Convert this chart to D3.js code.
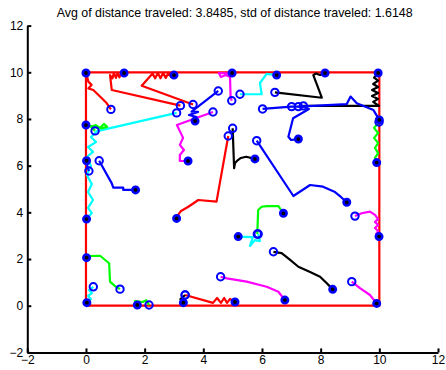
<!DOCTYPE html>
<html>
<head>
<meta charset="utf-8">
<script src="https://cdn.jsdelivr.net/npm/d3@7"></script>
<style>
  body { margin: 0; background: #fff; }
  svg { display: block; font-family: "Liberation Sans", Arial, sans-serif; }
</style>
</head>
<body>
<svg width="446" height="370"></svg>
<script>
// title + ticks
const titleText = "Avg of distance traveled: 3.8485, std of distance traveled: 1.6148";
const xTicks = [-2, 0, 2, 4, 6, 8, 10, 12];
const yTicks = [-2, 0, 2, 4, 6, 8, 10, 12];
const arena = [[0, 0], [10, 0], [10, 10], [0, 10], [0, 0]];

// trajectories: first point = start (open circle), last point = end (filled dot)
const redTopLeft = [[0.85, 8.41], [0.71, 8.67], [0.54, 8.89], [0.25, 9.24], [0.08, 9.31], [0.19, 9.46], [0.08, 9.6], [0.04, 9.81], [0, 9.97]];
const redTop1 = [[3.22, 8.57], [0.88, 9.24], [0.82, 9.88], [0.9, 9.74], [0.95, 9.97], [1.02, 9.76], [1.08, 9.97], [1.14, 9.78], [1.2, 9.95], [1.3, 9.97]];
const redTop2 = [[3.65, 8.62], [1.9, 9.42], [2.27, 9.95], [2.36, 9.74], [2.45, 9.97], [2.54, 9.74], [2.63, 9.97], [2.72, 9.76], [2.81, 9.97], [2.9, 9.8], [3.0, 9.88]];
const blueZ = [[4.51, 9.2], [3.6, 8.31], [3.82, 8.3], [3.51, 8.17], [3.78, 8.08], [3.72, 7.91]];
const magentaMid = [[4.33, 8.3], [3.1, 7.74], [3.31, 7.19], [3.2, 6.89], [3.34, 6.67], [3.2, 6.46], [3.2, 6.2], [3.48, 6.2]];
const cyanLeft = [[3.09, 8.26], [0.38, 7.48], [0.17, 7.23], [0.34, 7.01], [0.07, 6.8], [0.24, 6.59], [0.03, 6.37], [0.17, 5.99], [0.03, 5.6], [0.2, 5.21], [0.07, 4.87], [0.24, 4.53], [0.07, 4.19], [0.2, 3.97], [0.02, 3.71]];
const greenTopLeft = [[0.31, 7.49], [0.17, 7.66], [0.34, 7.74], [0.48, 7.61], [0.61, 7.79], [0.72, 7.66], [0.55, 7.61], [0.27, 7.66], [0, 7.74]];
const blueWall = [[0.1, 5.77], [0.05, 5.95], [0.02, 6.21]];
const blueLeft = [[0.45, 6.21], [0.88, 5.24], [0.93, 5.06], [1.27, 5.06], [1.27, 4.96], [1.69, 4.96]];
const redMid = [[4.85, 7.27], [4.45, 4.46], [3.83, 4.53], [3.49, 4.24], [3.24, 4.06], [3.14, 3.89], [3.09, 3.74]];
const blackMid = [[5.0, 7.6], [5.05, 5.89], [5.08, 6.11], [5.18, 6.24], [5.28, 6.33], [5.46, 6.38], [5.76, 6.29]];
const blueMid = [[5.82, 7.07], [7.07, 4.7], [7.64, 5.17], [8.08, 5.1], [8.49, 4.87], [8.69, 4.66], [8.89, 4.43]];
const greenMid = [[5.84, 3.07], [5.87, 4.1], [5.99, 4.24], [6.16, 4.27], [6.56, 4.27], [6.73, 3.96]];
const cyanMid = [[5.87, 3.07], [5.93, 2.77], [5.76, 2.81], [5.59, 2.56], [5.69, 2.94], [5.19, 2.96]];
const blackLow = [[6.39, 2.31], [6.67, 2.25], [6.96, 1.96], [7.24, 1.67], [7.64, 1.44], [7.98, 1.24], [8.21, 0.96], [8.41, 0.7]];
const magentaLow = [[4.59, 1.24], [4.8, 1.17], [5.48, 1.03], [6.16, 0.81], [6.56, 0.6], [6.78, 0.24]];
const magentaCorner = [[9.06, 1.03], [9.34, 0.75], [9.68, 0.46], [9.91, 0.1]];
const magentaRight = [[9.17, 3.84], [9.4, 3.96], [9.68, 4.03], [9.85, 3.89], [9.96, 3.71], [9.85, 3.59], [9.96, 3.46], [9.85, 3.33], [9.96, 3.2], [9.89, 3.07], [9.99, 2.96]];
const redLow = [[3.38, 0.46], [4.33, 0.12], [4.47, 0.33], [4.6, 0.12], [4.71, 0.33], [4.81, 0.12], [4.91, 0.29], [5.08, 0.16]];
const greenLow = [[2.15, 0.03], [2.05, 0.24], [1.94, 0.16], [1.67, 0.2], [1.75, 0.03]];
const cyanLow = [[0.25, 0.81], [0.1, 0.67], [0.2, 0.54], [0.07, 0.42], [0.17, 0.29], [0.03, 0.13]];
const greenLeft = [[1.16, 0.71], [0.99, 0.84], [0.82, 1.03], [0.79, 1.82], [0.48, 2.14], [0.02, 2.13], [0.02, 2.06]];
const blackLow2 = [[3.38, 0.46], [3.22, 0.28], [3.4, 0.1], [3.32, 0.13]];
const magentaTop = [[4.97, 8.78], [4.93, 8.94], [4.91, 9.8], [4.77, 9.88], [4.6, 9.8], [4.53, 9.97], [4.77, 9.95], [4.98, 9.97]];
const cyanTop = [[5.25, 9.06], [5.99, 9.06], [5.93, 9.54], [6.16, 9.93], [6.5, 9.88]];
const blackTop = [[6.44, 9.14], [8.04, 8.91], [7.75, 9.88], [7.84, 9.95], [7.98, 9.88], [8.15, 9.97]];
const blueTop = [[6.02, 8.43], [7.01, 8.53], [7.4, 8.53], [7.6, 8.43], [7.06, 8.03], [6.9, 7.24], [6.99, 7.1], [7.24, 7.14]];
const blackRight = [[7.41, 8.56], [9.99, 8.56], [9.79, 8.73], [9.96, 8.86], [9.75, 8.98], [9.96, 9.11], [9.75, 9.24], [9.96, 9.37], [9.79, 9.5], [9.96, 9.64], [9.82, 9.77], [9.96, 9.97]];
const blueRight = [[7.24, 8.53], [8.89, 8.64], [9.02, 8.96], [9.23, 8.67], [9.8, 8.38], [10.0, 7.96]];
const greenRight = [[9.99, 7.87], [9.82, 7.62], [9.96, 7.4], [9.82, 7.19], [9.96, 6.97], [9.85, 6.76], [9.96, 6.54], [9.85, 6.33], [9.91, 6.13]];
const extraStarts = [[7.01, 8.53]];

const colors = { r: "#ff0000", b: "#0000ff", c: "#00ffff", m: "#ff00ff", g: "#00ff00", k: "#000000" };
const paths = [
  { pts: redTopLeft, c: "r" }, { pts: redTop1, c: "r" }, { pts: redTop2, c: "r" },
  { pts: blueZ, c: "b" }, { pts: magentaMid, c: "m" }, { pts: cyanLeft, c: "c" },
  { pts: greenTopLeft, c: "g" }, { pts: blueWall, c: "b" }, { pts: blueLeft, c: "b" },
  { pts: redMid, c: "r" }, { pts: blackMid, c: "k" }, { pts: blueMid, c: "b" },
  { pts: greenMid, c: "g" }, { pts: cyanMid, c: "c" }, { pts: blackLow, c: "k" },
  { pts: magentaLow, c: "m" }, { pts: magentaCorner, c: "m" }, { pts: magentaRight, c: "m" },
  { pts: redLow, c: "r" }, { pts: greenLow, c: "g" }, { pts: cyanLow, c: "c" },
  { pts: greenLeft, c: "g" }, { pts: blackLow2, c: "k" }, { pts: magentaTop, c: "m" },
  { pts: cyanTop, c: "c" }, { pts: blackTop, c: "k" }, { pts: blueTop, c: "b" },
  { pts: blackRight, c: "k" }, { pts: blueRight, c: "b" }, { pts: greenRight, c: "g" }
];

const svg = d3.select("svg");
const x = d3.scaleLinear().domain([-2, 12]).range([27.3, 438]);
const y = d3.scaleLinear().domain([-2, 12]).range([352.4, 25.6]);
const line = d3.line().x(d => x(d[0])).y(d => y(d[1]));

// axes (left + bottom only, ticks inward)
const xAxisG = svg.append("g")
  .attr("transform", `translate(0,${y(-2)})`)
  .call(d3.axisBottom(x).tickValues(xTicks).tickSize(-4).tickSizeOuter(0).tickPadding(3));
const yAxisG = svg.append("g")
  .attr("transform", `translate(${x(-2)},0)`)
  .call(d3.axisLeft(y).tickValues(yTicks).tickSize(-4).tickSizeOuter(0).tickPadding(4));
[xAxisG, yAxisG].forEach(g => {
  g.select(".domain").attr("stroke", "#000").attr("stroke-width", 2);
  g.selectAll(".tick line").attr("stroke", "#000").attr("stroke-width", 2);
  g.selectAll("text").attr("fill", "#000").style("font-size", "12px");
});

// arena box
svg.append("path").datum(arena).attr("d", line)
  .attr("fill", "none").attr("stroke", colors.r).attr("stroke-width", 2.2);

svg.append("g").selectAll("path").data(paths).join("path")
  .attr("d", d => line(d.pts))
  .attr("fill", "none")
  .attr("stroke", d => colors[d.c])
  .attr("stroke-width", 2.2)
  .attr("stroke-linejoin", "round");

// start markers
const starts = paths.map(d => d.pts[0]).concat(extraStarts);
svg.append("g").selectAll("circle").data(starts).join("circle")
  .attr("cx", d => x(d[0])).attr("cy", d => y(d[1])).attr("r", 3.7)
  .attr("fill", "none").attr("stroke", colors.b).attr("stroke-width", 2);

// end markers
svg.append("g").selectAll("circle").data(paths.map(d => d.pts[d.pts.length - 1])).join("circle")
  .attr("cx", d => x(d[0])).attr("cy", d => y(d[1])).attr("r", 3.2)
  .attr("fill", "#000").attr("stroke", colors.b).attr("stroke-width", 2.6);

svg.append("text")
  .attr("x", (x(-2) + x(12)) / 2 + 2).attr("y", 17)
  .attr("text-anchor", "middle")
  .style("font-size", "12.4px")
  .attr("fill", "#000")
  .text(titleText);
</script>
</body>
</html>
